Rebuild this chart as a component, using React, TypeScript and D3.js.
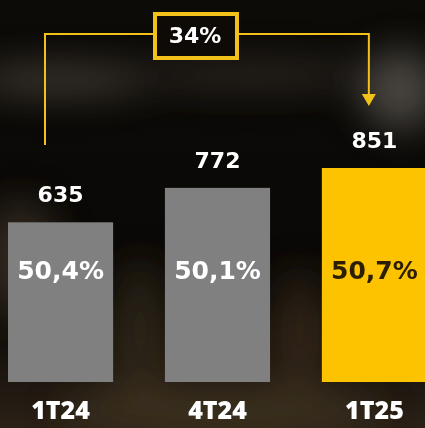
import React, { useEffect, useRef } from 'react'
import * as d3 from 'd3'

const categories = ['1T24', '4T24', '1T25']
const values = [635, 772, 851]
const shares = ['50,4%', '50,1%', '50,7%']
const growthLabel = '34%'

export default function App() {
  const ref = useRef<SVGSVGElement>(null)

  useEffect(() => {
    const svg = d3.select(ref.current)
    svg.selectAll('*').remove()
    const width = 425
    const height = 428
    svg.attr('width', width).attr('height', height).attr('viewBox', `0 0 ${width} ${height}`)

    const numFont = "'DejaVu Sans', sans-serif"
    const catFont = "'Open Sans', 'DejaVu Sans', sans-serif"
    const gold = '#f3c21a'

    // background
    const defs = svg.append('defs')
    defs.append('filter').attr('id', 'blur').attr('x', '-50%').attr('y', '-50%').attr('width', '200%').attr('height', '200%')
      .append('feGaussianBlur').attr('stdDeviation', 18)
    const bg = defs.append('linearGradient').attr('id', 'bg').attr('x1', 0).attr('y1', 0).attr('x2', 0).attr('y2', 1)
    bg.append('stop').attr('offset', '0%').attr('stop-color', '#0d0b08')
    bg.append('stop').attr('offset', '70%').attr('stop-color', '#0a0806')
    bg.append('stop').attr('offset', '100%').attr('stop-color', '#2a2016')
    svg.append('rect').attr('width', width).attr('height', height).attr('fill', 'url(#bg)')
    const glow = svg.append('g').attr('filter', 'url(#blur)')
    const blobs = [
      [60, 80, 90, 16, '#6b6456', 0.5],
      [250, 75, 120, 14, '#4a4236', 0.5],
      [400, 90, 40, 40, '#6e6a64', 0.6],
      [20, 260, 40, 60, '#4a3e2e', 0.6],
      [140, 330, 30, 70, '#3d3022', 0.6],
      [300, 330, 30, 60, '#4a3a26', 0.5],
      [220, 410, 160, 25, '#4a3a28', 0.6],
    ] as const
    blobs.forEach(([cx, cy, rx, ry, c, o]) => {
      glow.append('ellipse').attr('cx', cx).attr('cy', cy).attr('rx', rx).attr('ry', ry).attr('fill', c).attr('opacity', o)
    })

    const x = d3.scaleBand().domain(categories).range([8, 427]).paddingInner(0.33)
    const y = d3.scaleLinear().domain([0, 851]).range([382, 168])

    // bars
    categories.forEach((cat, i) => {
      const last = i === categories.length - 1
      svg.append('rect')
        .attr('x', x(cat)!)
        .attr('y', y(values[i]))
        .attr('width', x.bandwidth())
        .attr('height', y(0) - y(values[i]))
        .attr('fill', last ? '#fdc300' : '#808080')

      const cx = x(cat)! + x.bandwidth() / 2
      svg.append('text')
        .attr('x', cx).attr('y', y(values[i]) - 20)
        .attr('text-anchor', 'middle')
        .attr('font-family', numFont).attr('font-weight', 700).attr('font-size', 22)
        .attr('fill', '#ffffff')
        .text(values[i])

      svg.append('text')
        .attr('x', cx).attr('y', 279)
        .attr('text-anchor', 'middle')
        .attr('font-family', numFont).attr('font-weight', 700).attr('font-size', 25)
        .attr('fill', last ? '#2b1f00' : '#ffffff')
        .text(shares[i])

      svg.append('text')
        .attr('x', cx).attr('y', 419)
        .attr('text-anchor', 'middle')
        .attr('font-family', catFont).attr('font-weight', 800).attr('font-size', 25)
        .attr('fill', '#ffffff')
        .text(cat)
    })

    // growth bracket
    const x0 = x(categories[0])! + 37
    const x1 = x(categories[2])! + 47
    const top = 34
    svg.append('path')
      .attr('d', `M${x0},145 V${top} H${x1} V96`)
      .attr('fill', 'none').attr('stroke', gold).attr('stroke-width', 2)
    svg.append('path')
      .attr('d', `M${x1 - 7},94 L${x1 + 7},94 L${x1},106 Z`)
      .attr('fill', gold)
    svg.append('rect')
      .attr('x', 155).attr('y', 14).attr('width', 82).attr('height', 44)
      .attr('fill', '#0e0b06').attr('stroke', gold).attr('stroke-width', 4)
    svg.append('text')
      .attr('x', 195).attr('y', 43)
      .attr('text-anchor', 'middle')
      .attr('font-family', numFont).attr('font-weight', 700).attr('font-size', 22)
      .attr('fill', '#ffffff')
      .text(growthLabel)
  }, [])

  return (
    <div style={{ position: 'fixed', left: 0, top: 0 }}>
      <svg ref={ref} style={{ display: 'block' }}></svg>
    </div>
  )
}
